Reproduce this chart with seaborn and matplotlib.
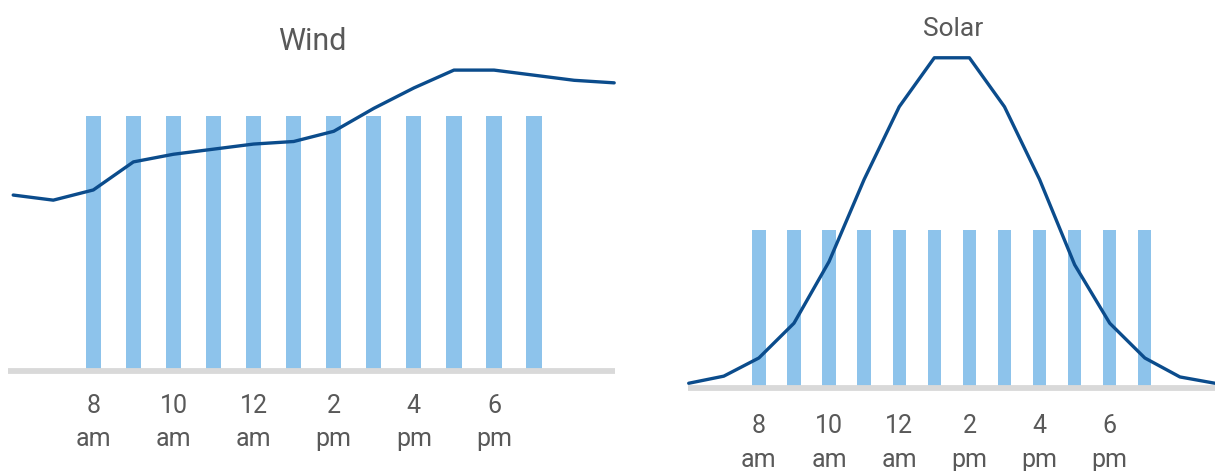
import matplotlib
matplotlib.use("Agg")
import matplotlib.pyplot as plt
import seaborn as sns
import pandas as pd
import numpy as np

# ---------------- data ----------------
hours = list(range(6, 22))                      # 6 am .. 9 pm
bar_hours = list(range(8, 20))                  # 8 am .. 7 pm
wind_line = [69, 67, 71, 82, 85, 87, 89, 90, 94, 103, 111, 118, 118, 116, 114, 113]
wind_bars = [100] * 12
solar_line = [3, 7.5, 19, 41, 80, 132, 178, 209, 209, 178, 132, 78, 41, 19, 7, 3]
solar_bars = [100] * 12
tick_hours = [8, 10, 12, 14, 16, 18]
tick_labels = ["8\nam", "10\nam", "12\nam", "2\npm", "4\npm", "6\npm"]
titles = ["Wind", "Solar"]

BAR_C = "#8DC3EB"
LINE_C = "#0B4C8C"
GRID_C = "#D9D9D9"
TEXT_C = "#595959"

sns.set_theme(style="white")
plt.rcParams["font.family"] = ["Roboto", "DejaVu Sans"]

W, H = 1215, 471
fig = plt.figure(figsize=(W / 100, H / 100), dpi=100)


def px_axes(x0, x1, y_top, y_base):
    return fig.add_axes([x0 / W, (H - y_base) / H, (x1 - x0) / W, (y_base - y_top) / H])


def draw(ax, line_vals, bar_vals, xlim, ylim, pad):
    dfb = pd.DataFrame({"hour": bar_hours, "val": bar_vals})
    dfl = pd.DataFrame({"hour": hours, "val": line_vals})
    sns.barplot(data=dfb, x="hour", y="val", native_scale=True, width=0.38,
                color=BAR_C, saturation=1, ax=ax, zorder=2, linewidth=0)
    ax.axhline(0, color=GRID_C, lw=4.2, zorder=3, clip_on=False, solid_capstyle="butt")
    sns.lineplot(data=dfl, x="hour", y="val", color=LINE_C, lw=2.4, ax=ax,
                 zorder=4, clip_on=False)
    ax.set_xlim(*xlim)
    ax.set_ylim(*ylim)
    ax.set_xticks(tick_hours)
    ax.set_xticklabels(tick_labels, fontsize=18, color=TEXT_C, linespacing=1.5)
    ax.tick_params(axis="x", length=0, pad=pad)
    ax.set_yticks([])
    ax.set_xlabel("")
    ax.set_ylabel("")
    for s in ax.spines.values():
        s.set_visible(False)
    ax.patch.set_alpha(0)


# Wind panel: baseline y=371, 2.55 px per unit
ax1 = px_axes(8, 615, 55, 371)
draw(ax1, wind_line, wind_bars, (5.87, 21.02), (0, (371 - 55) / 2.55), 16.5)

# Solar panel: baseline y=388, 1.58 px per unit
ax2 = px_axes(688, 1215, 45, 388)
draw(ax2, solar_line, solar_bars, (5.98, 21.0), (0, (388 - 45) / 1.58), 19)

fig.text(312 / W, 1 - 42 / H, titles[0], ha="center", va="center", fontsize=22, color=TEXT_C)
fig.text(953 / W, 1 - 29 / H, titles[1], ha="center", va="center", fontsize=19, color=TEXT_C)

fig.savefig("out.png", dpi=100)
